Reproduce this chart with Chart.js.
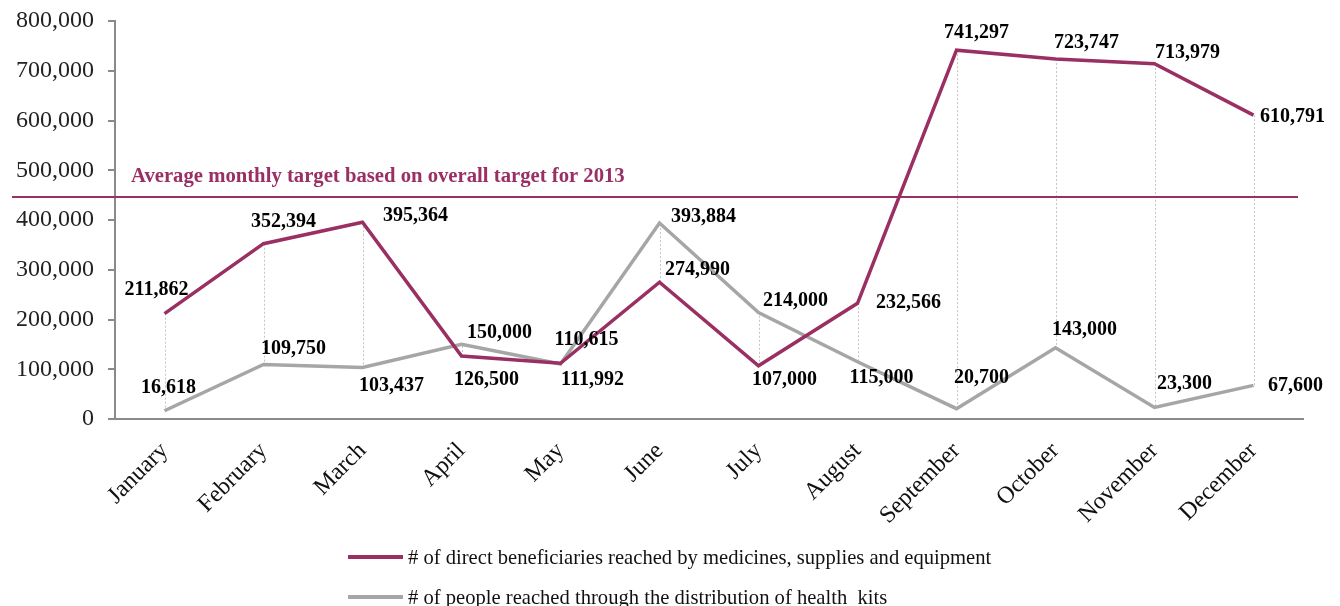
<!DOCTYPE html>
<html>
<head>
<meta charset="utf-8">
<script src="https://cdn.jsdelivr.net/npm/chart.js@4"></script>
<style>
  body { margin: 0; background: #fff; }
  #wrap { position: relative; width: 1340px; height: 606px; overflow: hidden; }
  #legend { position: absolute; left: 348px; top: 537px; font-family: "Liberation Serif", serif; font-size: 20.6px; color: #111; white-space: pre; }
  .item { display: flex; align-items: center; height: 40px; }
  .swatch { width: 55px; height: 4px; margin-right: 5px; }
</style>
</head>
<body>
<div id="wrap">
  <canvas id="beneficiariesChart" width="1340" height="606"></canvas>
  <div id="legend"></div>
</div>
<script>
let months = ["January", "February", "March", "April", "May", "June", "July", "August", "September", "October", "November", "December"];
let directBeneficiaries = [211862, 352394, 395364, 126500, 111992, 274990, 107000, 232566, 741297, 723747, 713979, 610791];
let healthKits = [16618, 109750, 103437, 150000, 110615, 393884, 214000, 115000, 20700, 143000, 23300, 67600];
let monthlyTarget = 446000;
let yTicks = [0, 100000, 200000, 300000, 400000, 500000, 600000, 700000, 800000];

let seriesNames = [
  "# of direct beneficiaries reached by medicines, supplies and equipment",
  "# of people reached through the distribution of health  kits",
];
let targetText = "Average monthly target based on overall target for 2013";

let purple = "#9a2f63";
let grey = "#a6a6a6";

// label offsets from the point (dx, dy), centre of text
let purpleLabelPos = [[-8, -24], [20, -22], [53, -6], [25, 24], [32, 17], [38, -12], [26, 14], [51, 0], [20, -17], [31, -16], [33, -11], [39, 2]];
let greyLabelPos = [[4, -23], [30, -16], [29, 18], [38, -12], [26, -24], [44, -6], [37, -12], [24, 16], [25, -31], [29, -18], [30, -24], [42, 0]];

const fmt = (v) => v.toLocaleString("en-US");

const overlay = {
  id: "overlay",
  beforeDatasetsDraw(chart) {
    const { ctx, chartArea, scales } = chart;
    const x = scales.x, y = scales.y;
    // high-low lines
    ctx.save();
    ctx.strokeStyle = "#c4c4c4";
    ctx.lineWidth = 1;
    ctx.setLineDash([2, 2]);
    months.forEach((m, i) => {
      const px = Math.round(x.getPixelForValue(i)) + 0.5;
      ctx.beginPath();
      ctx.moveTo(px, y.getPixelForValue(directBeneficiaries[i]));
      ctx.lineTo(px, y.getPixelForValue(healthKits[i]));
      ctx.stroke();
    });
    ctx.restore();
    // target line
    const ty = y.getPixelForValue(monthlyTarget);
    ctx.save();
    ctx.strokeStyle = purple;
    ctx.lineWidth = 2;
    ctx.beginPath();
    ctx.moveTo(chartArea.left - 103, ty);
    ctx.lineTo(chartArea.right - 5, ty);
    ctx.stroke();
    ctx.fillStyle = purple;
    ctx.font = "bold 20.7px 'Liberation Serif'";
    ctx.textBaseline = "alphabetic";
    ctx.fillText(targetText, chartArea.left + 16, ty - 15);
    ctx.restore();
  },
  afterDatasetsDraw(chart) {
    const { ctx, scales } = chart;
    const x = scales.x, y = scales.y;
    ctx.save();
    ctx.fillStyle = "#000";
    ctx.font = "bold 20px 'Liberation Serif'";
    ctx.textAlign = "center";
    ctx.textBaseline = "middle";
    months.forEach((m, i) => {
      const px = x.getPixelForValue(i);
      let p = purpleLabelPos[i];
      ctx.fillText(fmt(directBeneficiaries[i]), px + p[0], y.getPixelForValue(directBeneficiaries[i]) + p[1]);
      let g = greyLabelPos[i];
      ctx.fillText(fmt(healthKits[i]), px + g[0], y.getPixelForValue(healthKits[i]) + g[1]);
    });
    ctx.restore();
  },
};

new Chart("beneficiariesChart", {
  type: "line",
  data: {
    labels: months,
    datasets: [
      { label: seriesNames[0], data: directBeneficiaries, borderColor: purple, borderWidth: 3.5, pointRadius: 0, tension: 0 },
      { label: seriesNames[1], data: healthKits, borderColor: grey, borderWidth: 3.5, pointRadius: 0, tension: 0 },
    ],
  },
  options: {
    responsive: false,
    animation: false,
    layout: { padding: { top: 21, right: 37, left: 0, bottom: 0 } },
    plugins: { legend: { display: false }, tooltip: { enabled: false } },
    scales: {
      x: {
        offset: true,
        grid: { display: false },
        border: { color: "#8a8a8a", width: 2 },
        ticks: {
          font: { family: "Liberation Serif", size: 24 },
          color: "#111",
          maxRotation: 45,
          minRotation: 45,
          padding: 10,
        },
        afterFit: (scale) => { scale.height = 187; },
      },
      y: {
        min: 0,
        max: 800000,
        afterBuildTicks: (scale) => { scale.ticks = yTicks.map((v) => ({ value: v })); },
        ticks: {
          font: { family: "Liberation Serif", size: 24 },
          color: "#222",
          padding: 14,
          callback: (v) => fmt(v),
        },
        grid: { drawOnChartArea: false, tickLength: 7, color: "#8a8a8a", lineWidth: 2 },
        border: { color: "#8a8a8a", width: 2 },
        afterFit: (scale) => {
          scale.width = 115;
          scale.paddingTop = 0;
          scale.paddingBottom = 0;
        },
      },
    },
  },
  plugins: [overlay],
});

let legend = document.getElementById("legend");
[purple, grey].forEach((c, i) => {
  legend.innerHTML += `<div class="item"><span class="swatch" style="background:${c}"></span>${seriesNames[i]}</div>`;
});
</script>
</body>
</html>
